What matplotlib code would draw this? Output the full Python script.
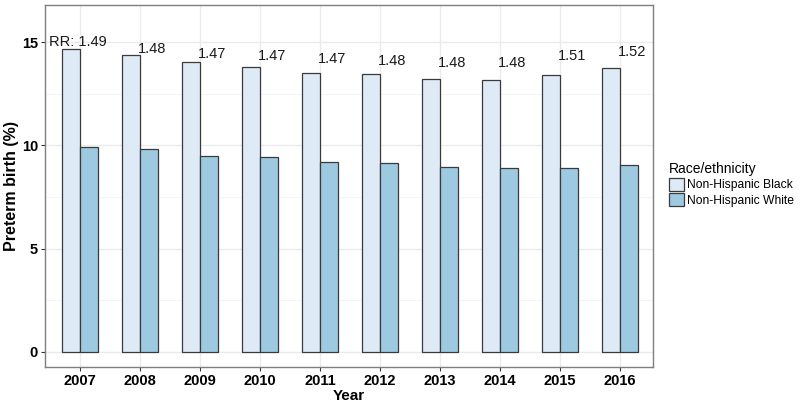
import matplotlib
matplotlib.use("Agg")
import matplotlib.pyplot as plt
import numpy as np

plt.rcParams['font.family'] = ['Liberation Sans', 'DejaVu Sans']

years = ["2007", "2008", "2009", "2010", "2011", "2012", "2013", "2014", "2015", "2016"]
black = [14.69, 14.37, 14.05, 13.80, 13.53, 13.48, 13.24, 13.19, 13.40, 13.75]
white = [9.93, 9.81, 9.50, 9.43, 9.21, 9.14, 8.94, 8.89, 8.89, 9.05]
rr_labels = ["RR: 1.49", "1.48", "1.47", "1.47", "1.47", "1.48", "1.48", "1.48", "1.51", "1.52"]
rr_label_y = [15.0, 14.66, 14.45, 14.33, 14.2, 14.08, 13.97, 13.97, 14.32, 14.53]
series_names = ["Non-Hispanic Black", "Non-Hispanic White"]
colors = ["#DEEBF7", "#9ECAE1"]

fig = plt.figure(figsize=(8, 4.05), dpi=100)
ax = fig.add_axes([45/800, 38/405, 608/800, 362/405])

x = np.arange(1, len(years) + 1)
w = 0.3
ax.set_axisbelow(True)
for v in [2.5, 7.5, 12.5]:
    ax.axhline(v, color="#F2F2F2", lw=0.6, zorder=0)
for v in [0, 5, 10, 15]:
    ax.axhline(v, color="#EBEBEB", lw=1.0, zorder=0)
for xi in x:
    ax.axvline(xi, color="#EBEBEB", lw=1.0, zorder=0)

b1 = ax.bar(x - w/2, black, width=w, color=colors[0], edgecolor="#3a3a3a", lw=0.9, label=series_names[0], zorder=2)
b2 = ax.bar(x + w/2, white, width=w, color=colors[1], edgecolor="#3a3a3a", lw=0.9, label=series_names[1], zorder=2)

for xi, lab, ly in zip(x, rr_labels, rr_label_y):
    ax.text(xi + 0.44, ly, lab, ha="right", va="center", fontsize=10.5, color="#1a1a1a", zorder=3)

ax.set_xlim(0.417, 10.55)
ax.set_ylim(-0.73, 16.8)
ax.set_xticks(x)
ax.set_xticklabels(years, fontsize=10.5, fontweight="bold")
ax.set_yticks([0, 5, 10, 15])
ax.set_yticklabels(["0", "5", "10", "15"], fontsize=10.5, fontweight="bold")
ax.tick_params(axis="both", length=3, width=0.8, color="#333333", pad=2)
for s in ax.spines.values():
    s.set_color("#7F7F7F")
    s.set_linewidth(1.0)

ax.set_xlabel("Year", fontsize=11, fontweight="bold", labelpad=1)
ax.set_ylabel("Preterm birth (%)", fontsize=11.5, fontweight="bold")
ax.yaxis.set_label_coords(-26/608, 0.5)

leg = fig.legend(handles=[b1, b2], labels=series_names, title="Race/ethnicity",
                 loc="upper left", bbox_to_anchor=(669/800, 1 - 162/405),
                 frameon=False, fontsize=8.7, title_fontsize=10,
                 handlelength=1.2, handleheight=1.3, handletextpad=0.25,
                 labelspacing=0.15, borderaxespad=0, borderpad=0)
leg._legend_box.align = "left"

fig.savefig("out.png", dpi=100)
